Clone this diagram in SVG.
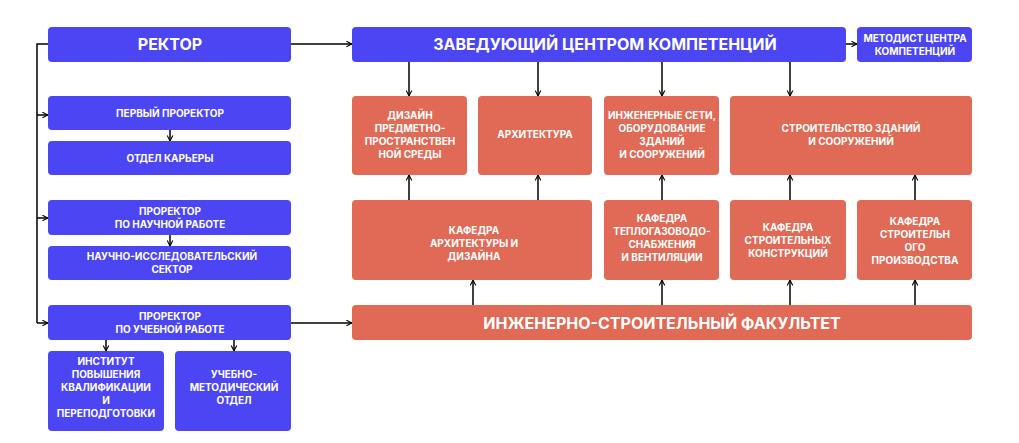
<svg xmlns="http://www.w3.org/2000/svg" width="1019" height="443" viewBox="0 0 1019 443">
<style>
.b{fill:#4B45F4}.o{fill:#E06A55}
text{font-family:Inter,"Noto Sans",sans-serif;font-weight:700;fill:#fff;text-anchor:middle}
.s{font-size:10px}.l{font-size:16px}
.c path{fill:none;stroke:#000;stroke-width:1.5}
</style>
<defs><marker id="a" viewBox="0 0 10 10" refX="9" refY="5" markerWidth="7" markerHeight="7" orient="auto" markerUnits="userSpaceOnUse"><path d="M1,1 L9,5 L1,9" fill="none" stroke="#000" stroke-width="1.5"/></marker></defs>
<rect width="1019" height="443" fill="#fff"/>
<g class="c">
<path d="M48,44 H37 V323"/>
<path d="M37,115 H48" marker-end="url(#a)"/>
<path d="M37,218 H48" marker-end="url(#a)"/>
<path d="M37,323 H48" marker-end="url(#a)"/>
<path d="M170,130 V141" marker-end="url(#a)"/>
<path d="M170,235 V246" marker-end="url(#a)"/>
<path d="M106,340 V351" marker-end="url(#a)"/>
<path d="M234,340 V351" marker-end="url(#a)"/>
<path d="M291,44 H352" marker-end="url(#a)"/>
<path d="M291,323 H352" marker-end="url(#a)"/>
<path d="M846,44 H857" marker-end="url(#a)"/>
<path d="M409,62 V96" marker-end="url(#a)"/>
<path d="M538,62 V96" marker-end="url(#a)"/>
<path d="M662,62 V96" marker-end="url(#a)"/>
<path d="M790,62 V96" marker-end="url(#a)"/>
<path d="M409,200 V175" marker-end="url(#a)"/>
<path d="M538,200 V175" marker-end="url(#a)"/>
<path d="M662,200 V175" marker-end="url(#a)"/>
<path d="M790,200 V175" marker-end="url(#a)"/>
<path d="M915,200 V175" marker-end="url(#a)"/>
<path d="M473,305 V280" marker-end="url(#a)"/>
<path d="M662,305 V280" marker-end="url(#a)"/>
<path d="M790,305 V280" marker-end="url(#a)"/>
<path d="M915,305 V280" marker-end="url(#a)"/>
</g>
<g id="rector"><rect class="b" x="48" y="27" width="243" height="35" rx="4"/><text class="l" x="170" y="50">РЕКТОР</text></g>
<g id="p1"><rect class="b" x="48" y="96" width="243" height="34" rx="4"/><text class="s" x="170" y="117">ПЕРВЫЙ ПРОРЕКТОР</text></g>
<g id="career"><rect class="b" x="48" y="141" width="243" height="34" rx="4"/><text class="s" x="170" y="162">ОТДЕЛ КАРЬЕРЫ</text></g>
<g id="p2"><rect class="b" x="48" y="200" width="243" height="35" rx="4"/><text class="s" x="170" y="215">ПРОРЕКТОР</text><text class="s" x="170" y="228">ПО НАУЧНОЙ РАБОТЕ</text></g>
<g id="nis"><rect class="b" x="48" y="246" width="243" height="34" rx="4"/><text class="s" x="172" y="260">НАУЧНО-ИССЛЕДОВАТЕЛЬСКИЙ</text><text class="s" x="172" y="273">СЕКТОР</text></g>
<g id="p3"><rect class="b" x="48" y="305" width="243" height="35" rx="4"/><text class="s" x="170" y="320">ПРОРЕКТОР</text><text class="s" x="170" y="333">ПО УЧЕБНОЙ РАБОТЕ</text></g>
<g id="inst"><rect class="b" x="48" y="351" width="116" height="80" rx="4"/><text class="s" x="106" y="365">ИНСТИТУТ</text><text class="s" x="106" y="378">ПОВЫШЕНИЯ</text><text class="s" x="106" y="391">КВАЛИФИКАЦИИ</text><text class="s" x="106" y="404">И</text><text class="s" x="106" y="417">ПЕРЕПОДГОТОВКИ</text></g>
<g id="umo"><rect class="b" x="175" y="351" width="116" height="80" rx="4"/><text class="s" x="234" y="378">УЧЕБНО-</text><text class="s" x="234" y="391">МЕТОДИЧЕСКИЙ</text><text class="s" x="234" y="404">ОТДЕЛ</text></g>
<g id="zav"><rect class="b" x="352" y="27" width="494" height="35" rx="4"/><text class="l" x="605" y="50">ЗАВЕДУЮЩИЙ ЦЕНТРОМ КОМПЕТЕНЦИЙ</text></g>
<g id="metod"><rect class="b" x="857" y="27" width="115" height="35" rx="4"/><text class="s" x="915" y="42">МЕТОДИСТ ЦЕНТРА</text><text class="s" x="915" y="55">КОМПЕТЕНЦИЙ</text></g>
<g id="design"><rect class="o" x="352" y="96" width="115" height="79" rx="4"/><text class="s" x="410" y="119">ДИЗАЙН</text><text class="s" x="410" y="132">ПРЕДМЕТНО-</text><text class="s" x="410" y="145">ПРОСТРАНСТВЕН</text><text class="s" x="410" y="158">НОЙ СРЕДЫ</text></g>
<g id="arch"><rect class="o" x="478" y="96" width="114" height="79" rx="4"/><text class="s" x="535" y="138">АРХИТЕКТУРА</text></g>
<g id="eng"><rect class="o" x="604" y="96" width="115" height="79" rx="4"/><text class="s" x="662" y="119">ИНЖЕНЕРНЫЕ СЕТИ,</text><text class="s" x="662" y="132">ОБОРУДОВАНИЕ</text><text class="s" x="662" y="145">ЗДАНИЙ</text><text class="s" x="662" y="158">И СООРУЖЕНИЙ</text></g>
<g id="build"><rect class="o" x="730" y="96" width="242" height="79" rx="4"/><text class="s" x="851" y="132">СТРОИТЕЛЬСТВО ЗДАНИЙ</text><text class="s" x="851" y="145">И СООРУЖЕНИЙ</text></g>
<g id="k1"><rect class="o" x="352" y="200" width="240" height="80" rx="4"/><text class="s" x="474" y="234">КАФЕДРА</text><text class="s" x="474" y="247">АРХИТЕКТУРЫ И</text><text class="s" x="474" y="260">ДИЗАЙНА</text></g>
<g id="k2"><rect class="o" x="604" y="200" width="115" height="80" rx="4"/><text class="s" x="662" y="222">КАФЕДРА</text><text class="s" x="662" y="235">ТЕПЛОГАЗОВОДО-</text><text class="s" x="662" y="248">СНАБЖЕНИЯ</text><text class="s" x="662" y="261">И ВЕНТИЛЯЦИИ</text></g>
<g id="k3"><rect class="o" x="730" y="200" width="116" height="80" rx="4"/><text class="s" x="788" y="231">КАФЕДРА</text><text class="s" x="788" y="244">СТРОИТЕЛЬНЫХ</text><text class="s" x="788" y="257">КОНСТРУКЦИЙ</text></g>
<g id="k4"><rect class="o" x="857" y="200" width="115" height="80" rx="4"/><text class="s" x="915" y="225">КАФЕДРА</text><text class="s" x="915" y="238">СТРОИТЕЛЬН</text><text class="s" x="915" y="251">ОГО</text><text class="s" x="915" y="264">ПРОИЗВОДСТВА</text></g>
<g id="fac"><rect class="o" x="352" y="305" width="620" height="35" rx="4"/><text class="l" x="662" y="329">ИНЖЕНЕРНО-СТРОИТЕЛЬНЫЙ ФАКУЛЬТЕТ</text></g>
</svg>
